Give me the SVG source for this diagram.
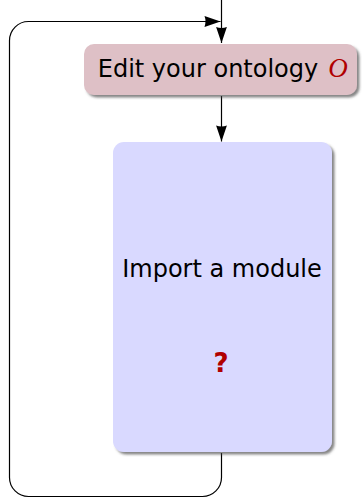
<svg xmlns="http://www.w3.org/2000/svg" width="363" height="498" viewBox="0 0 363 498">
  <style>
    .edge { fill: none; stroke: #000; stroke-width: 1.2; }
    .label { font-family: "DejaVu Sans", "Noto Sans", sans-serif; font-size: 24px; fill: #000; text-anchor: middle; }
    .accent { fill: #b00000; font-size: 26px; font-weight: bold; }
  </style>
  <defs>
    <filter id="shadow" x="-10%" y="-10%" width="125%" height="125%">
      <feDropShadow dx="2.5" dy="2.5" stdDeviation="1.2" flood-color="#444" flood-opacity="0.65"/>
    </filter>
    <marker id="arrow" viewBox="-17 -6 18 12" refX="0" refY="0" markerWidth="18" markerHeight="12" markerUnits="userSpaceOnUse" orient="auto">
      <path d="M0,0 L-16,-5.4 Q-14,0 -16,5.4 Z" fill="#000"/>
    </marker>
  </defs>

  <g id="connectors">
    <!-- entry arrow into the edit step -->
    <path class="edge" d="M221.5,0 V43" marker-end="url(#arrow)"/>
    <!-- edit step to import step -->
    <path class="edge" d="M221.5,96 V141.5" marker-end="url(#arrow)"/>
    <!-- loop back from import step to the top -->
    <path class="edge" d="M221.5,453 V477.5 A19,19 0 0 1 202.5,496.5 H28.5 A19,19 0 0 1 9.5,477.5 V40.5 A19,19 0 0 1 28.5,21.5 H220.5" marker-end="url(#arrow)"/>
  </g>

  <g id="edit-ontology">
    <rect x="84" y="44" width="273" height="51" rx="10" ry="10" fill="#dec0c6" filter="url(#shadow)"/>
    <text class="label" x="208" y="77">Edit your ontology</text>
    <text x="338" y="77" font-family="'Liberation Serif', serif" font-style="italic" font-size="27" fill="#b00000" text-anchor="middle">O</text>
  </g>

  <g id="import-module">
    <rect x="113" y="142" width="219" height="310" rx="11" ry="11" fill="#d9d9ff" filter="url(#shadow)"/>
    <text class="label" x="222" y="277">Import a module</text>
    <text class="label accent" x="221" y="372">?</text>
  </g>
</svg>
